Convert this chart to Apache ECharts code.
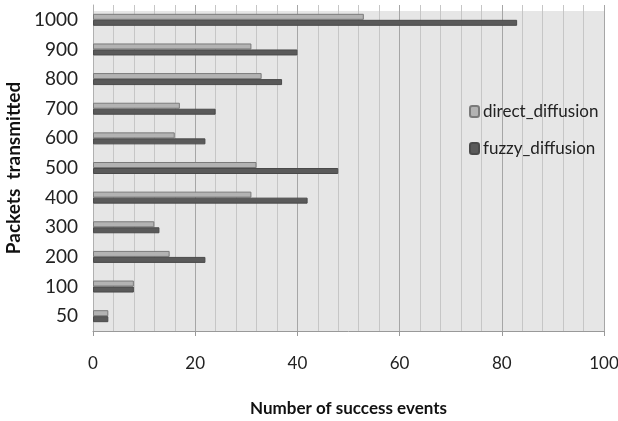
<!DOCTYPE html>
<html>
<head>
<meta charset="utf-8">
<script src="https://cdn.jsdelivr.net/npm/echarts@6/dist/echarts.min.js"></script>
<style>
  html, body { margin: 0; padding: 0; background: #fff; }
  #chart { width: 618px; height: 421px; }
</style>
</head>
<body>
<div id="chart"></div>
<script>
// Packets transmitted (category axis, bottom to top)
const packets = ['50', '100', '200', '300', '400', '500', '600', '700', '800', '900', '1000'];
// Number of success events per protocol
const directDiffusion = [3, 8, 15, 12, 31, 32, 16, 17, 33, 31, 53];
const fuzzyDiffusion  = [3, 8, 22, 13, 42, 48, 22, 24, 37, 40, 83];
const xTicks = [0, 20, 40, 60, 80, 100];

const gridLeft = 93, gridRight = 14, gridTop = 5, gridBottom = 90;
const font = 'Lato, "Open Sans", sans-serif';

const chart = echarts.init(document.getElementById('chart'), null, { renderer: 'canvas' });
chart.setOption({
  animation: false,
  backgroundColor: '#ffffff',
  graphic: [{
    type: 'rect',
    z: -10,
    shape: { x: gridLeft, y: 11, width: 618 - gridLeft - gridRight, height: 421 - gridBottom - 11 },
    style: { fill: '#e6e6e6' }
  }],
  grid: {
    left: gridLeft, right: gridRight, top: gridTop, bottom: gridBottom,
    containLabel: false,
    outerBoundsMode: 'none'
  },
  legend: {
    orient: 'vertical',
    left: 464,
    top: 98,
    itemGap: 20,
    itemWidth: 9,
    itemHeight: 11,
    textStyle: { fontFamily: font, fontSize: 17, color: '#222', padding: [0, 0, 0, -1] },
    data: ['direct_diffusion', 'fuzzy_diffusion']
  },
  xAxis: {
    type: 'value',
    min: xTicks[0],
    max: xTicks[xTicks.length - 1],
    interval: 20,
    name: 'Number of success events',
    nameLocation: 'middle',
    nameGap: 69,
    nameTextStyle: { fontFamily: font, fontSize: 17, fontWeight: 'bold', color: '#111' },
    axisLine: { show: true, lineStyle: { color: '#999' } },
    axisTick: { show: true, length: 5, lineStyle: { color: '#999' } },
    axisLabel: { fontFamily: font, fontSize: 17, color: '#222', margin: 24 },
    splitLine: { show: true, lineStyle: { color: '#a6a6a6', width: 1 } },
    minorTick: { show: false, splitNumber: 5 },
    minorSplitLine: { show: true, lineStyle: { color: '#c6c6c6', width: 1 } }
  },
  yAxis: {
    type: 'category',
    data: packets,
    name: 'Packets  transmitted',
    nameLocation: 'middle',
    nameGap: 68,
    nameTextStyle: { fontFamily: font, fontSize: 19, fontWeight: 'bold', color: '#111' },
    axisLine: { show: true, lineStyle: { color: '#b0b0b0' } },
    axisTick: { show: false },
    axisLabel: { fontFamily: font, fontSize: 19, color: '#222', margin: 15 }
  },
  series: [
    {
      name: 'direct_diffusion',
      type: 'bar',
      data: directDiffusion,
      barWidth: 6,
      barGap: '0%',
      itemStyle: { color: '#b3b3b3', borderColor: '#7a7a7a', borderWidth: 1 }
    },
    {
      name: 'fuzzy_diffusion',
      type: 'bar',
      data: fuzzyDiffusion,
      barWidth: 6,
      barGap: '0%',
      itemStyle: { color: '#5a5a5a', borderColor: '#4a4a4a', borderWidth: 1 }
    }
  ]
});
</script>
</body>
</html>
